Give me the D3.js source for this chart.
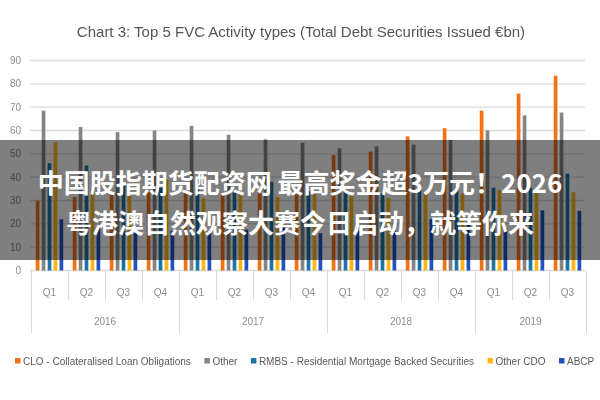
<!DOCTYPE html>
<html>
<head>
<meta charset="utf-8">
<script src="https://cdn.jsdelivr.net/npm/d3@7/dist/d3.min.js"></script>
<style>
  body { margin: 0; background: #fff; }
  svg { display: block; }
</style>
</head>
<body>
<svg></svg>
<script>
// categories along the x axis
var quarters = ['Q1', 'Q2', 'Q3', 'Q4', 'Q1', 'Q2', 'Q3', 'Q4', 'Q1', 'Q2', 'Q3', 'Q4', 'Q1', 'Q2', 'Q3'];
var yearOf   = ['2016', '2016', '2016', '2016', '2017', '2017', '2017', '2017',
                '2018', '2018', '2018', '2018', '2019', '2019', '2019'];

// series (EUR bn)
var series = ['CLO - Collateralised Loan Obligations', 'Other',
              'RMBS - Residential Mortgage Backed Securities', 'Other CDO', 'ABCP'];
var clo      = [30, 31.5, 32.5, 33.5, 33.5, 33.5, 33, 34, 49.5, 51, 57.5, 61, 68.5, 75.8, 83.5];
var other    = [68.5, 61.5, 59.3, 60, 62, 58.2, 56.2, 54.8, 52.4, 53.2, 54, 56, 60, 66.5, 67.7];
var rmbs     = [46, 45, 37, 35.5, 35, 34.5, 38, 34, 34, 33, 36, 36, 35.5, 35.5, 41.5];
var otherCdo = [55, 34, 32, 39, 31, 33, 31.5, 33, 32, 31, 33.5, 33, 34.5, 34.5, 33.5];
var abcp     = [22, 19, 16, 17, 17, 17.5, 19, 16, 17, 17, 22, 23, 18, 25.8, 25.6];
var values = [clo, other, rmbs, otherCdo, abcp];
var colors = ['#f47216', '#858585', '#1b75a6', '#fdb813', '#2152c2'];

var yTicks = d3.range(0, 91, 10);

var title = 'Chart 3: Top 5 FVC Activity types (Total Debt Securities Issued €bn)';
var banner = ['中国股指期货配资网 最高奖金超3万元！2026', '粤港澳自然观察大赛今日启动，就等你来'];

var width = 600, height = 400;
var font = '"Liberation Sans", Arial, sans-serif';
var svg = d3.select('svg').attr('width', width).attr('height', height);

// the source picture is soft; a light blur on the chart body
svg.append('defs')
  .append('filter')
    .attr('id', 'soft')
  .append('feGaussianBlur')
    .attr('stdDeviation', 0.45);

var chart = svg.append('g').attr('filter', 'url(#soft)');

var x0 = d3.scaleBand()
  .domain(d3.range(quarters.length))
  .range([31, 586]);

var x1 = d3.scaleBand()
  .domain(d3.range(series.length))
  .range([0, x0.bandwidth()])
  .paddingInner(0.38)
  .paddingOuter(0.8);

var y = d3.scaleLinear()
  .domain([0, 90])
  .range([270.5, 60.5]);

// title
chart.append('text')
  .attr('x', 301)
  .attr('y', 31)
  .attr('text-anchor', 'middle')
  .attr('dominant-baseline', 'central')
  .style('font-family', font)
  .style('font-size', '15px')
  .style('fill', '#555')
  .text(title);

// gridlines + y labels
chart.append('g')
  .selectAll('line')
  .data(yTicks)
  .enter()
  .append('line')
    .attr('x1', 30)
    .attr('x2', 585)
    .attr('y1', d => y(d))
    .attr('y2', d => y(d))
    .attr('stroke', '#dcdcdc')
    .attr('stroke-width', 1.3);

chart.append('g')
  .selectAll('text')
  .data(yTicks)
  .enter()
  .append('text')
    .attr('x', 21)
    .attr('y', d => y(d))
    .attr('text-anchor', 'end')
    .attr('dominant-baseline', 'central')
    .style('font-family', font)
    .style('font-size', '10px')
    .style('fill', '#8c8c8c')
    .text(d => d);

// bars
var groups = chart.append('g')
  .selectAll('g')
  .data(quarters)
  .enter()
  .append('g')
    .attr('transform', (d, i) => `translate(${x0(i)},0)`);

groups.selectAll('rect')
  .data((d, i) => values.map((s, j) => ({ s: j, v: s[i] })))
  .enter()
  .append('rect')
    .attr('x', d => x1(d.s))
    .attr('width', x1.bandwidth())
    .attr('y', d => y(d.v))
    .attr('height', d => y(0) - y(d.v))
    .attr('fill', d => colors[d.s]);

// x axis: quarter ticks and year separators
var bounds = d3.range(quarters.length + 1);
var edge = i => i < quarters.length ? x0(i) : x0(i - 1) + x0.bandwidth();
var isYearEdge = i => i === 0 || i === quarters.length || yearOf[i] !== yearOf[i - 1];

chart.append('g')
  .selectAll('line')
  .data(bounds)
  .enter()
  .append('line')
    .attr('x1', i => Math.round(edge(i)) + 0.5)
    .attr('x2', i => Math.round(edge(i)) + 0.5)
    .attr('y1', 270.5)
    .attr('y2', i => isYearEdge(i) ? 333 : 300)
    .attr('stroke', '#d9d9d9');

chart.append('g')
  .selectAll('text')
  .data(quarters)
  .enter()
  .append('text')
    .attr('x', (d, i) => x0(i) + x0.bandwidth() / 2)
    .attr('y', 292)
    .attr('text-anchor', 'middle')
    .attr('dominant-baseline', 'central')
    .style('font-family', font)
    .style('font-size', '10px')
    .style('fill', '#8c8c8c')
    .text(d => d);

var yearList = Array.from(new Set(yearOf));
chart.append('g')
  .selectAll('text')
  .data(yearList)
  .enter()
  .append('text')
    .attr('x', d => {
      var idx = d3.range(yearOf.length).filter(i => yearOf[i] === d);
      return (x0(idx[0]) + x0(idx[idx.length - 1]) + x0.bandwidth()) / 2;
    })
    .attr('y', 321)
    .attr('text-anchor', 'middle')
    .attr('dominant-baseline', 'central')
    .style('font-family', font)
    .style('font-size', '10px')
    .style('fill', '#8c8c8c')
    .text(d => d);

// legend
var legend = chart.append('g');
var lx = 15;
series.forEach(function(name, i) {
  legend.append('rect')
    .attr('x', lx)
    .attr('y', 358)
    .attr('width', 5.5)
    .attr('height', 5.5)
    .attr('fill', colors[i]);
  var t = legend.append('text')
    .attr('x', lx + 8)
    .attr('y', 361)
    .attr('dominant-baseline', 'central')
    .style('font-family', font)
    .style('font-size', '10px')
    .style('fill', '#595959')
    .text(name);
  lx += 8 + t.node().getComputedTextLength() + 13.5;
});

// banner overlay
svg.append('rect')
  .attr('x', 0)
  .attr('y', 140)
  .attr('width', width)
  .attr('height', 120)
  .attr('fill', 'rgba(0,0,0,0.5)');

svg.append('g')
  .selectAll('text')
  .data(banner)
  .enter()
  .append('text')
    .attr('x', 300)
    .attr('y', (d, i) => 181 + i * 40)
    .attr('text-anchor', 'middle')
    .attr('dominant-baseline', 'central')
    .style('font-family', '"Noto Sans CJK SC", sans-serif')
    .style('font-weight', 'bold')
    .style('font-size', '26px')
    .style('fill', '#fff')
    .text(d => d);
</script>
</body>
</html>
